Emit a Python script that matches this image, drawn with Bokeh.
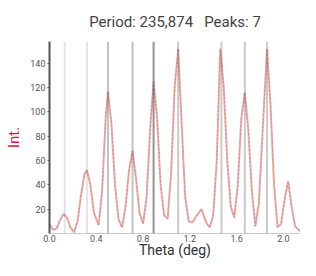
from bokeh.plotting import figure
from bokeh.models import Span, Range1d, FixedTicker, CustomJSTickFormatter, Title
from bokeh.embed import file_html
from bokeh.resources import INLINE

theta = [0.00, 0.03, 0.06, 0.09, 0.12, 0.15, 0.18, 0.21, 0.24, 0.27, 0.30, 0.32,
         0.35, 0.38, 0.42, 0.45, 0.48, 0.50, 0.53, 0.56, 0.59, 0.62, 0.65, 0.68,
         0.71, 0.74, 0.77, 0.80, 0.83, 0.86, 0.89, 0.92, 0.95, 0.98, 1.01, 1.04,
         1.07, 1.10, 1.13, 1.16, 1.19, 1.22, 1.26, 1.30, 1.34, 1.37, 1.40, 1.43,
         1.46, 1.49, 1.52, 1.55, 1.58, 1.61, 1.64, 1.67, 1.70, 1.73, 1.76, 1.79,
         1.82, 1.86, 1.89, 1.92, 1.95, 1.98, 2.01, 2.04, 2.07, 2.10, 2.14, 2.17, 2.20]
intensity = [8, 3, 4, 11, 16, 13, 5, 1, 10, 32, 49, 52,
             40, 17, 7, 35, 95, 117, 90, 40, 12, 5, 22, 52,
             68, 45, 17, 8, 30, 85, 125, 95, 40, 15, 12, 50,
             120, 152, 90, 30, 10, 9, 15, 20, 9, 5, 15, 60,
             152, 120, 60, 22, 13, 40, 95, 116, 85, 35, 6, 25,
             80, 152, 105, 40, 5, 8, 28, 43, 22, 6, 2, 7, 7]

peak_positions = [0.13, 0.32, 0.50, 0.71, 0.89, 1.10, 1.47, 1.67, 1.86]
peak_line_alpha = [0.18, 0.18, 0.4, 0.4, 0.7, 0.35, 0.35, 0.35, 0.35]

x_ticks = [0.0, 0.4, 0.8, 1.2, 1.6, 2.0]
y_ticks = [20, 40, 60, 80, 100, 120, 140]

title_text = "Period: 235,874\u00a0\u00a0\u00a0Peaks: 7"

p = figure(width=300, height=260, output_backend="svg", toolbar_location=None,
           x_range=Range1d(0, 2.146), y_range=Range1d(0, 158),
           min_border_left=49, min_border_right=0, min_border_top=0, min_border_bottom=0)
p.title = Title(text=title_text, align="center", text_font="Roboto",
                text_font_size="15px", text_font_style="normal", text_color="#444444",
                standoff=21)
p.outline_line_color = None
p.xgrid.visible = False
p.ygrid.visible = False
p.background_fill_color = "white"

for xp, a in zip(peak_positions, peak_line_alpha):
    p.add_layout(Span(location=xp, dimension="height", line_color="#666666",
                      line_alpha=a, line_width=2))

p.line(theta, intensity, line_color="#eba5a0", line_width=2, line_alpha=0.9)
p.line(theta, intensity, line_color="#9a3a4a", line_width=1, line_alpha=0.3,
       line_dash="2 2")

p.xaxis.ticker = FixedTicker(ticks=x_ticks)
p.yaxis.ticker = FixedTicker(ticks=y_ticks)
p.xaxis.formatter = CustomJSTickFormatter(code="return tick.toFixed(1);")
p.xaxis.axis_label = "Theta (deg)"
p.yaxis.axis_label = "Int."
for ax in (p.xaxis, p.yaxis):
    ax.major_label_text_font = "Roboto"
    ax.major_label_text_font_size = "9px"
    ax.major_label_text_color = "#555555"
    ax.axis_label_text_font = "Roboto"
    ax.axis_label_text_font_size = "14px"
    ax.axis_label_text_font_style = "normal"
    ax.minor_tick_line_color = None
p.xaxis.major_label_standoff = 0
p.xaxis.axis_label_standoff = -3
p.yaxis.major_label_standoff = 2
p.yaxis.axis_label_standoff = 4
p.yaxis.axis_label_text_font_size = "15px"
p.xaxis.axis_label_text_color = "#333333"
p.yaxis.axis_label_text_color = "#e0103a"
p.xaxis.axis_line_color = "#cccccc"
p.xaxis.major_tick_line_color = "#cccccc"
p.xaxis.major_tick_out = 1
p.xaxis.major_tick_in = 0
p.yaxis.axis_line_color = "#555555"
p.yaxis.axis_line_width = 2
p.yaxis.major_tick_line_color = "#555555"
p.yaxis.major_tick_out = 2
p.yaxis.major_tick_in = 0

open("out.html", "w").write(file_html(p, INLINE))
